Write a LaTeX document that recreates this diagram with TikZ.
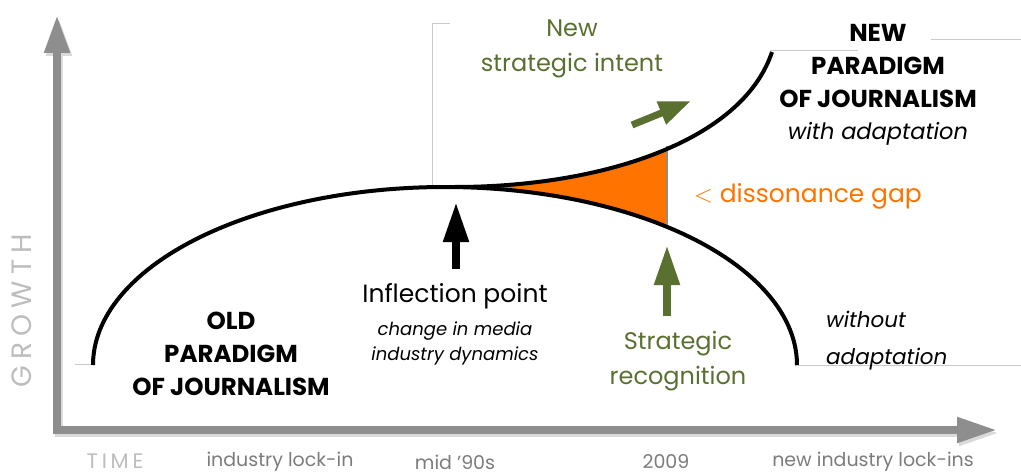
\documentclass[tikz,border=0pt]{standalone}
\usepackage{fontspec}
\setmainfont{Poppins}
\newfontfamily\spacedfont[LetterSpace=22]{Poppins}
\newfontfamily\tlfont[LetterSpace=18]{Poppins}
\usetikzlibrary{arrows.meta}
\definecolor{axisgray}{HTML}{8E8E8E}
\definecolor{axisshadow}{HTML}{DADADA}
\definecolor{thingray}{HTML}{CACACA}
\definecolor{olivegreen}{HTML}{5A7031}
\definecolor{gaporange}{HTML}{FF7300}
\definecolor{labelgray}{HTML}{7C7C7C}
\definecolor{lightlabel}{HTML}{BDBDBD}
\begin{document}
\begin{tikzpicture}[x=1pt,y=-1pt,
  curve/.style={line width=4pt,black},
  guide/.style={thingray,line width=1pt},
  axisline/.style={line width=8pt,line join=miter,
    {Triangle[width=24pt,length=38pt]}-{Triangle[width=24pt,length=40pt]}},
  blockarrow/.style={line width=8pt,-{Triangle[width=24pt,length=40pt]}},
  smallarrow/.style={line width=7pt,-{Triangle[width=23pt,length=32pt]}},
  capsbold/.style={font=\fontsize{24.5}{33}\selectfont\bfseries,align=center,inner sep=0pt},
  itext/.style={font=\fontsize{18}{25}\selectfont\itshape,align=center,inner sep=0pt},
  bigtext/.style={font=\fontsize{24}{35}\selectfont,align=center,inner sep=0pt},
  bottomlabel/.style={font=\fontsize{19}{20}\selectfont,text=labelgray,inner sep=0pt}]
\useasboundingbox (0,0) rectangle (1021,476);

% guide lines
\draw[guide] (75,364) -- (95,364);
\draw[guide] (450,24) -- (432,24) -- (432,188);
\draw[guide] (770,51) -- (858,51);
\draw[guide] (931,40) -- (1021,40);
\draw[guide] (795,365) -- (1021,365);

% axes
\coordinate (ytip) at (57,15);
\coordinate (origin) at (57,430);
\coordinate (xtip) at (997,430);
\draw[axisline,axisshadow] ([shift={(2,3)}]ytip) -- ([shift={(2,3)}]origin) -- ([shift={(2,3)}]xtip);
\draw[axisline,axisgray] (ytip) -- (origin) -- (xtip);

% dissonance gap
\begin{scope}
  \clip (455,0) rectangle (667,476);
  \fill[gaporange] (455,187) .. controls (600,187) and (742,142) .. (772,52)
    -- (800,52) -- (800,365)
    -- plot[domain=360:270,samples=120] ({445+352*cos(\x)},{365+178*sin(\x)}) -- cycle;
\end{scope}
\coordinate (gaptop) at (667,146);
\coordinate (gapbottom) at (667,229);
\draw[axisgray,line width=2pt] (gaptop) -- (gapbottom);

% curves
\draw[curve] plot[domain=180:360,samples=160] ({445+352*cos(\x)},{365+178*sin(\x)});
\draw[curve] (455,187) .. controls (600,187) and (742,142) .. (772,52);

% arrows
\coordinate (infbase) at (456,269);
\coordinate (inftip) at (456,202);
\draw[blockarrow,black] (infbase) -- (inftip);
\coordinate (recbase) at (667,316);
\coordinate (rectip) at (667,245);
\draw[blockarrow,olivegreen] (recbase) -- (rectip);
\coordinate (intbase) at (632,125);
\coordinate (inttip) at (691,101);
\draw[smallarrow,olivegreen] (intbase) -- (inttip);

% texts
\node[capsbold] (old) at (231,354) {OLD\\PARADIGM\\OF JOURNALISM};
\node[bigtext,font=\fontsize{25}{35}\selectfont] (inflection) at (455,296) {Inflection point};
\node[itext] (change) at (455,343) {change in media\\industry dynamics};
\node[bigtext,text=olivegreen] (recog) at (678,361) {Strategic\\recognition};
\node[bigtext,text=olivegreen] (intent) at (572,49) {New\\strategic intent};
\node[bigtext,font=\fontsize{25}{35}\selectfont,text=gaporange] (gap) at (808,196) {$<$ dissonance gap};
\node[capsbold] (newp) at (878,66) {NEW\\PARADIGM\\OF JOURNALISM};
\node[itext,font=\fontsize{22.5}{25}\selectfont\itshape] (withad) at (878,134) {with adaptation};
\node[itext,font=\fontsize{21.5}{37}\selectfont\itshape,align=left,anchor=west] (without) at (826,341) {without\\adaptation};

\node[font=\fontsize{28}{28}\selectfont\spacedfont,text=lightlabel,rotate=90,inner sep=0pt] (growth) at (22,311) {GROWTH};
\node[font=\fontsize{21}{21}\selectfont\tlfont,text=lightlabel,inner sep=0pt] (time) at (115,461) {TIME};
\node[bottomlabel] (lockin) at (280,462) {industry lock-in};
\node[bottomlabel] (mid) at (455,462) {mid ’90s};
\node[bottomlabel] (y2009) at (666,462) {2009};
\node[bottomlabel] (newlock) at (873,462) {new industry lock-ins};
\end{tikzpicture}
\end{document}
